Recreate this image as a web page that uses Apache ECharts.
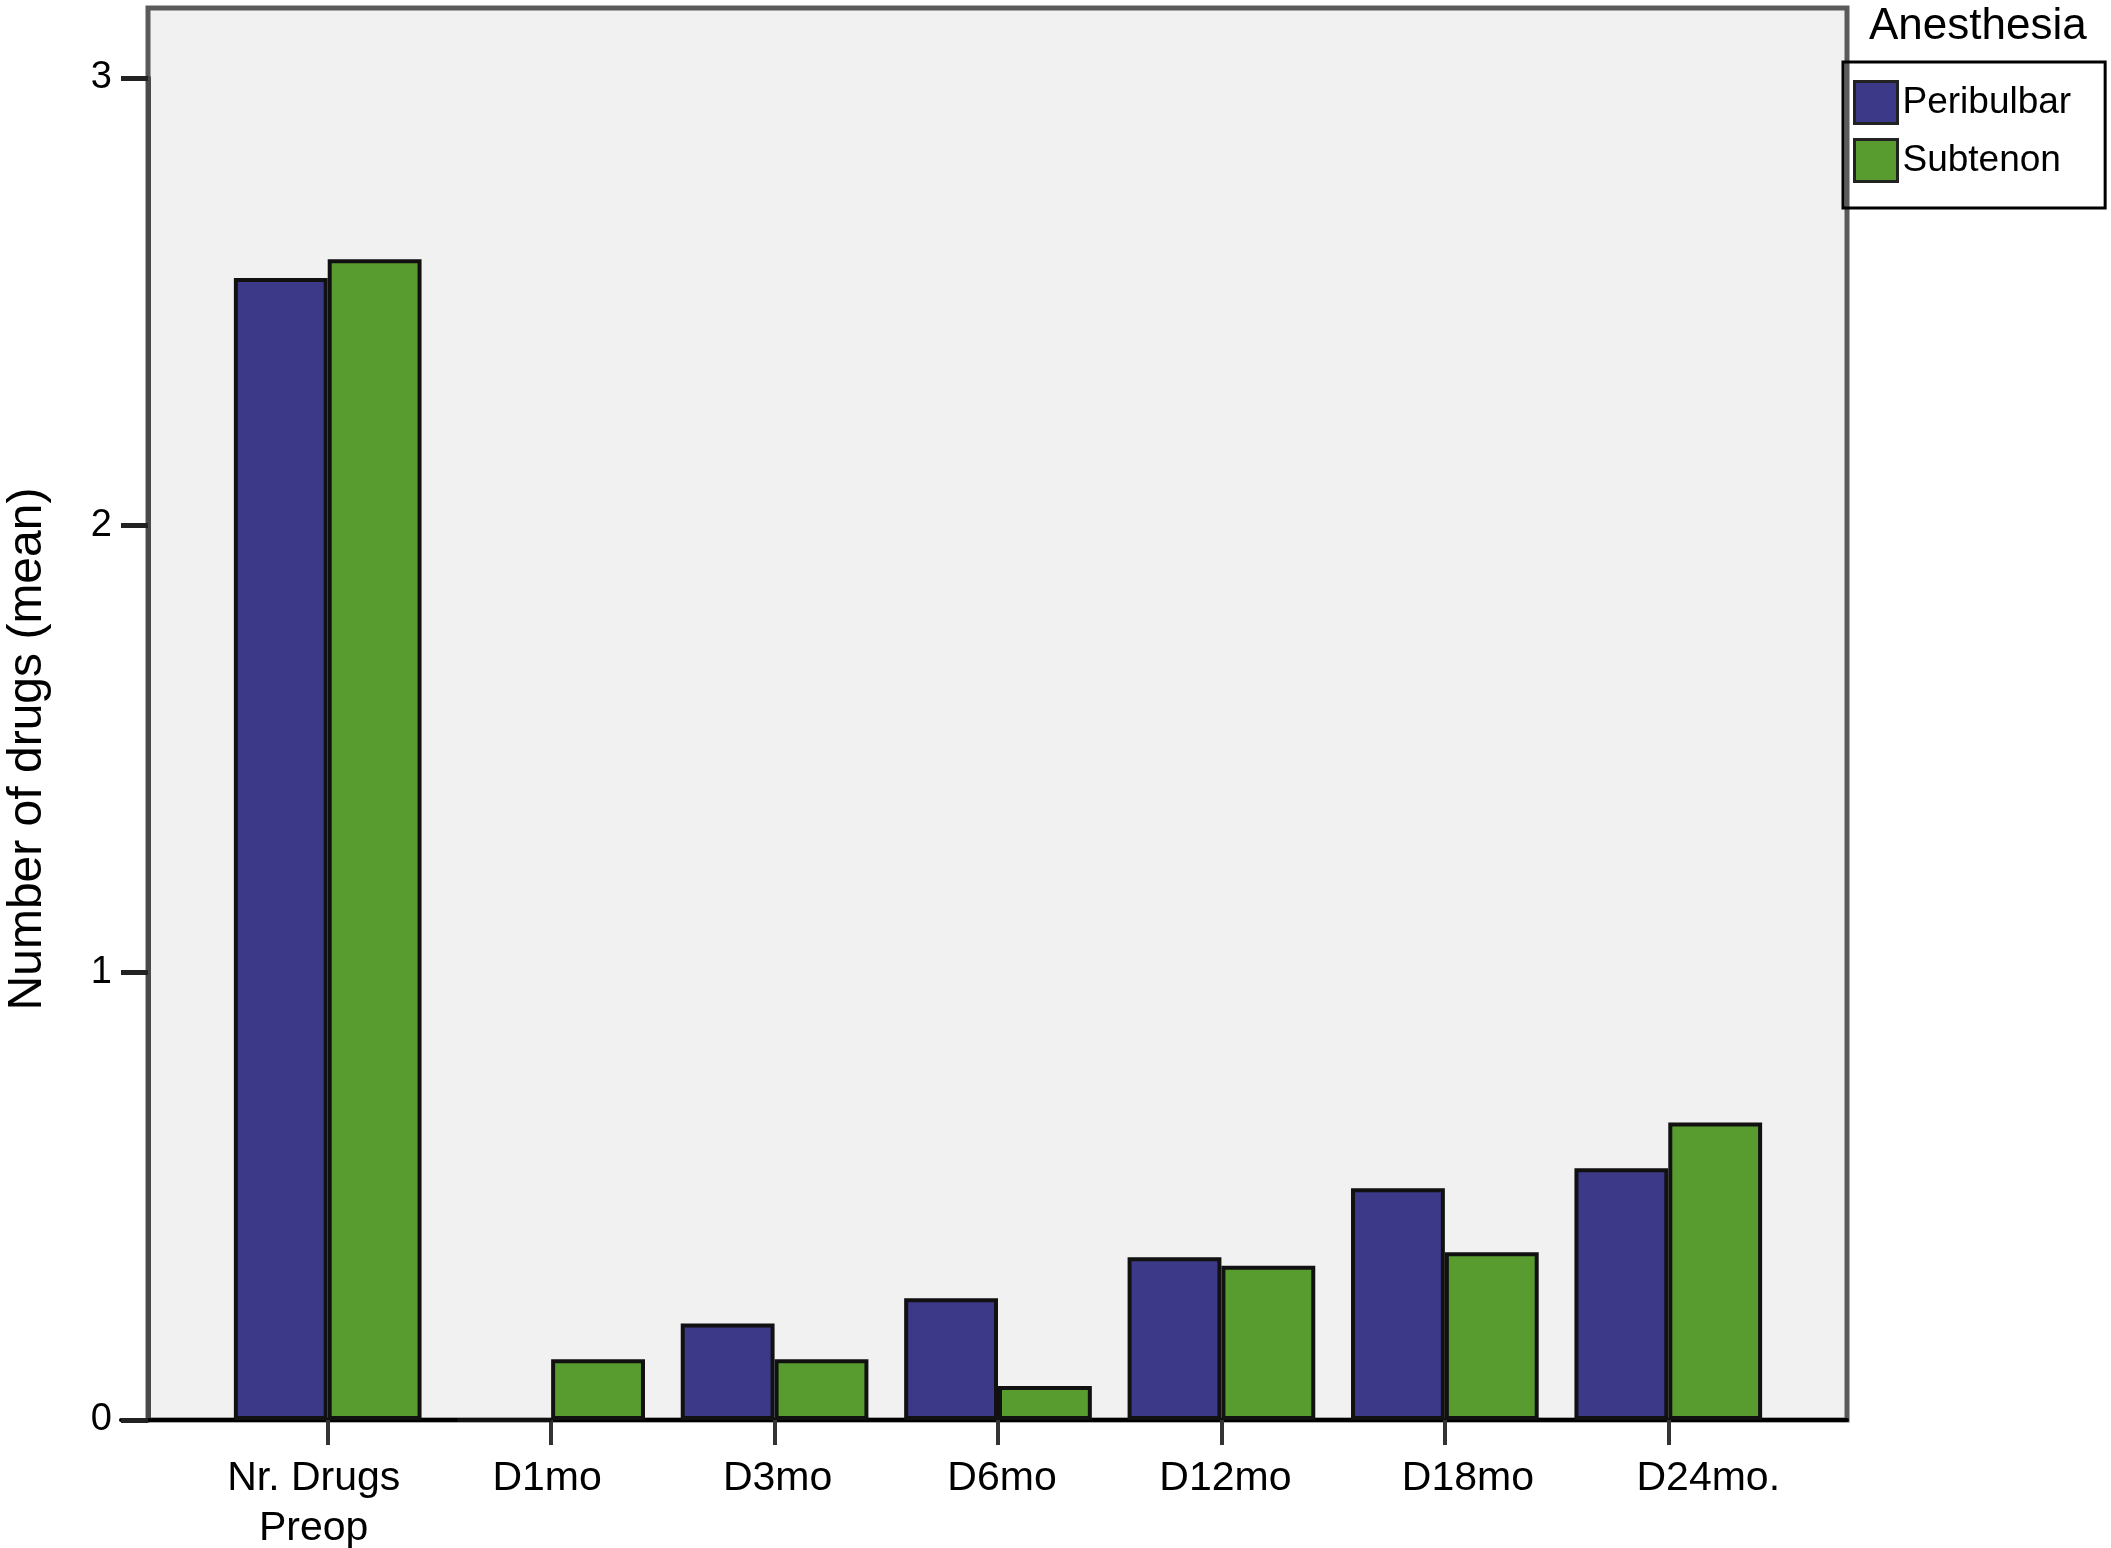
<!DOCTYPE html>
<html>
<head>
<meta charset="utf-8">
<script src="https://cdn.jsdelivr.net/npm/echarts@6/dist/echarts.min.js"></script>
<style>
  html, body { margin: 0; padding: 0; background: #fff; }
  #chart { width: 2111px; height: 1548px; }
</style>
</head>
<body>
<div id="chart"></div>
<script>
// values (mean number of drugs)
const categories = ['Nr. Drugs\nPreop', 'D1mo', 'D3mo', 'D6mo', 'D12mo', 'D18mo', 'D24mo.']
const peribulbar = [2.553, 0, 0.216, 0.272, 0.364, 0.518, 0.563]
const subtenon = [2.595, 0.136, 0.136, 0.076, 0.345, 0.375, 0.665]
const yTicks = [0, 1, 2, 3]
const seriesNames = ['Peribulbar', 'Subtenon']

// the original labels sit a little off their ticks (px, + = right)
const labelShift = [-14, -4, 3, 4, 4, 23, 40]

const FONT = "'Liberation Sans', Arial, sans-serif"
const chart = echarts.init(document.getElementById('chart'), null, { renderer: 'canvas' })

const yMin = yTicks[0]
const yMax = yTicks[yTicks.length - 1]

// category items with their label nudge
const categoryItems = categories.map((name, i) => {
  const d = labelShift[i]
  return {
    value: name,
    textStyle: { padding: d >= 0 ? [0, 0, 0, 2 * d] : [0, -2 * d, 0, 0] }
  }
})

// bar look shared by both series
const barStyle = (color) => ({
  color: color,
  borderColor: '#111',
  borderWidth: 4
})

const option = {
  animation: false,
  backgroundColor: '#fff',
  textStyle: { fontFamily: FONT },
  title: {
    text: 'Anesthesia',
    left: 1864,
    top: 0,
    textStyle: { fontFamily: FONT, fontSize: 44, fontWeight: 'normal', color: '#000' }
  },
  legend: {
    data: seriesNames,
    orient: 'vertical',
    left: 1843,
    top: 62,
    padding: [18, 34, 25, 10],
    itemWidth: 43,
    itemHeight: 42,
    itemGap: 13,
    borderColor: '#000',
    borderWidth: 3,
    icon: 'rect',
    itemStyle: { borderColor: '#222', borderWidth: 3 },
    textStyle: { fontFamily: FONT, fontSize: 37, color: '#000' }
  },
  grid: [
    // plot frame
    { left: 148, top: 8, width: 1699, height: 1412, show: true, outerBoundsMode: 'none',
      backgroundColor: '#f1f1f1', borderColor: '#5a5a5a', borderWidth: 5 },
    // bars
    { left: 216, top: 78, width: 1564, height: 1342, outerBoundsMode: 'none' },
    // y axis
    { left: 148, top: 78, width: 100, height: 1342, outerBoundsMode: 'none' },
    // baseline
    { left: 121, top: 78, width: 1726, height: 1342, outerBoundsMode: 'none' }
  ],
  xAxis: [
    { gridIndex: 0, type: 'value', show: false },
    {
      gridIndex: 1,
      type: 'category',
      data: categoryItems,
      axisLine: { show: false },
      axisTick: { show: true, alignWithLabel: true, length: 25, lineStyle: { color: '#333', width: 4 } },
      axisLabel: { fontFamily: FONT, fontSize: 41, lineHeight: 50, color: '#000', margin: 34, interval: 0 }
    },
    { gridIndex: 2, type: 'value', show: false },
    {
      gridIndex: 3,
      type: 'value',
      axisLine: { show: true, onZero: false, lineStyle: { color: '#000', width: 4 } },
      axisTick: { show: false },
      axisLabel: { show: false },
      splitLine: { show: false }
    }
  ],
  yAxis: [
    { gridIndex: 0, type: 'value', show: false },
    { gridIndex: 1, type: 'value', min: yMin, max: yMax, show: false },
    {
      gridIndex: 2,
      type: 'value',
      min: yMin,
      max: yMax,
      interval: 1,
      name: 'Number of drugs (mean)',
      nameLocation: 'middle',
      nameGap: 96,
      nameTextStyle: { fontFamily: FONT, fontSize: 48, color: '#000' },
      axisLine: { show: true, lineStyle: { color: '#4a4a4a', width: 5 } },
      axisTick: { show: true, length: 27, lineStyle: { color: '#222', width: 5 } },
      axisLabel: { fontFamily: FONT, fontSize: 38, color: '#000', margin: 36 },
      splitLine: { show: false }
    },
    { gridIndex: 3, type: 'value', min: yMin, max: yMax, show: false }
  ],
  series: [
    {
      name: seriesNames[0],
      type: 'bar',
      xAxisIndex: 1,
      yAxisIndex: 1,
      data: peribulbar,
      barGap: '0%',
      barCategoryGap: '16%',
      itemStyle: barStyle('#3c3989')
    },
    {
      name: seriesNames[1],
      type: 'bar',
      xAxisIndex: 1,
      yAxisIndex: 1,
      data: subtenon,
      barGap: '0%',
      barCategoryGap: '16%',
      itemStyle: barStyle('#589c30')
    }
  ]
}

chart.setOption(option)
</script>
</body>
</html>
